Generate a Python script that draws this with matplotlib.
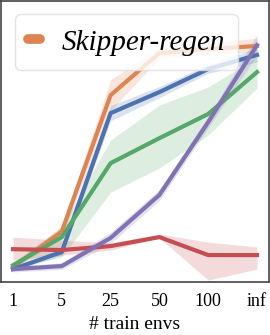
import numpy as np
import matplotlib
matplotlib.use('Agg')
import matplotlib.pyplot as plt
from matplotlib.lines import Line2D

plt.rcParams['font.family'] = ['Liberation Serif', 'DejaVu Serif']

# categories on the x axis
envs = ['1', '5', '25', '50', '100', 'inf']

# mean curves (y axis has no labels, 0..1 scale)
orange = [0.053, 0.18, 0.665, 0.815, 0.829, 0.84]
blue = [0.046, 0.107, 0.601, 0.676, 0.758, 0.808]
green = [0.06, 0.16, 0.423, 0.512, 0.598, 0.747]
red = [0.117, 0.114, 0.128, 0.16, 0.096, 0.096]
purple = [0.046, 0.057, 0.157, 0.31, 0.569, 0.843]

# shaded band (low, high)
orange_lo = [0.045, 0.16, 0.61, 0.797, 0.81, 0.819]
orange_hi = [0.06, 0.20, 0.72, 0.833, 0.85, 0.868]
blue_lo = [0.04, 0.095, 0.574, 0.656, 0.743, 0.783]
blue_hi = [0.052, 0.12, 0.628, 0.696, 0.773, 0.833]
green_lo = [0.05, 0.089, 0.32, 0.406, 0.523, 0.69]
green_hi = [0.07, 0.196, 0.505, 0.63, 0.694, 0.80]
red_lo = [0.078, 0.096, 0.114, 0.157, 0.007, 0.046]
red_hi = [0.16, 0.149, 0.139, 0.171, 0.142, 0.125]
purple_lo = [0.036, 0.045, 0.137, 0.29, 0.549, 0.808]
purple_hi = [0.056, 0.069, 0.177, 0.33, 0.589, 0.879]

series = [
    (orange, orange_lo, orange_hi, '#DD8452'),
    (blue, blue_lo, blue_hi, '#4C72B0'),
    (green, green_lo, green_hi, '#55A868'),
    (red, red_lo, red_hi, '#C44E52'),
    (purple, purple_lo, purple_hi, '#8172B3'),
]

fig = plt.figure(figsize=(2.7, 3.35), dpi=100)
ax = fig.add_axes([0.003, 0.158, 0.994, 0.839])

x = np.arange(len(envs))
for mean, lo, hi, col in series:
    ax.fill_between(x, lo, hi, color=col, alpha=0.2, lw=0)
    ax.plot(x, mean, color=col, lw=3)

ax.set_xticks(x)
ax.set_xticklabels(envs, fontsize=13)
ax.set_yticks([])
ax.set_ylim(0, 1)
ax.margins(x=0.05)
ax.tick_params(axis='x', length=0, pad=8)
ax.set_xlabel('# train envs', fontsize=14, labelpad=4)
for s in ax.spines.values():
    s.set_color('#444444')
    s.set_linewidth(1.2)

handle = Line2D([], [], color='#DD8452', lw=7, solid_capstyle='round')
leg = ax.legend([handle], ['Skipper-regen'], loc='upper left',
                bbox_to_anchor=(0.052, 0.953), borderaxespad=0,
                handlelength=0.4, handleheight=1.0, handletextpad=0.75,
                borderpad=0.45,
                prop={'style': 'italic', 'size': 21}, fancybox=True)
leg.get_frame().set_edgecolor('#dddddd')

fig.savefig('out.png', dpi=100)
